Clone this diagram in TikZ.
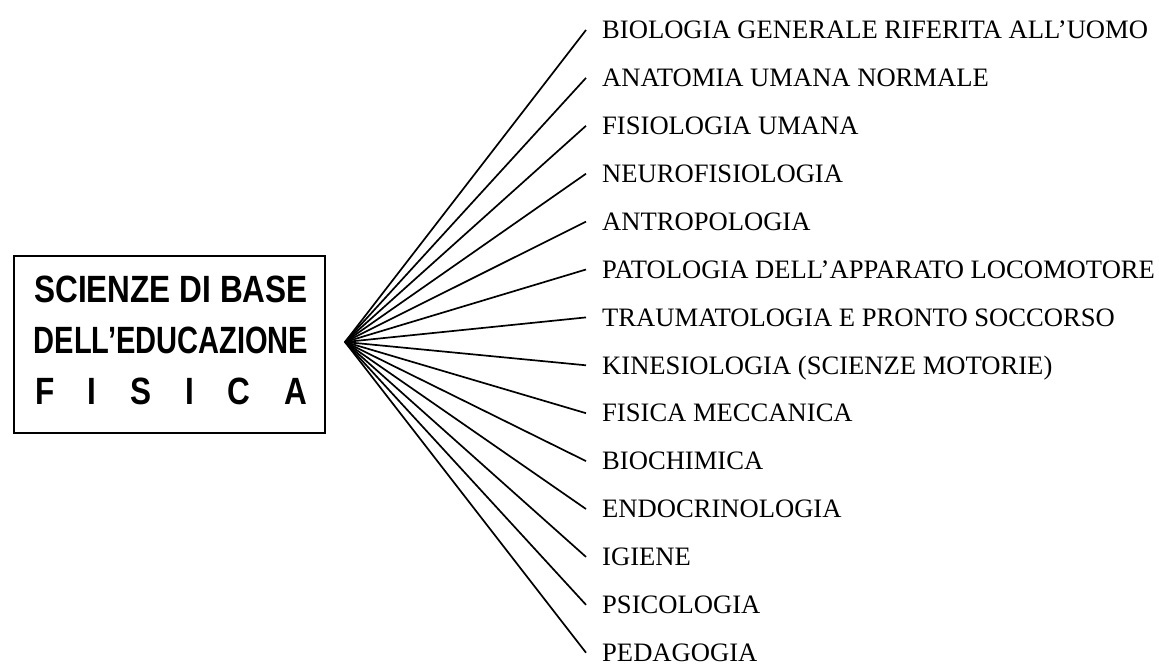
\documentclass[tikz,border=0pt]{standalone}
\usepackage{fontspec}
\setmainfont{Liberation Serif}
\newfontfamily\boxfontA[FakeStretch=0.83]{Liberation Sans}
\newfontfamily\boxfontB[FakeStretch=0.765]{Liberation Sans}
\tikzset{
  x=1pt, y=-1pt,
  framebox/.style={draw, line width=2pt, minimum width=311pt, minimum height=177pt, inner sep=0pt},
  titletext/.style={font=\bfseries\fontsize{38}{51}\selectfont, align=center, inner sep=0pt},
  label/.style={anchor=west, inner sep=0pt, text height=17.5pt, text depth=0pt, font=\fontsize{26.6}{30}\selectfont},
  conn/.style={line width=1.7pt}
}
\begin{document}
\begin{tikzpicture}
\useasboundingbox (0,0) rectangle (1159,666);
\node[framebox] (box) at (169.5,344.5) {};
\node[titletext] (title) at (171,340) {{\boxfontA SCIENZE DI BASE}\\{\boxfontB DELL’EDUCAZIONE}\\{\boxfontA\makebox[272pt][s]{F\hfill I\hfill S\hfill I\hfill C\hfill A}}};
\coordinate (apex) at (345,342);
\foreach \t [count=\i from 0] in {
  BIOLOGIA GENERALE RIFERITA ALL’UOMO,
  ANATOMIA UMANA NORMALE,
  FISIOLOGIA UMANA,
  NEUROFISIOLOGIA,
  ANTROPOLOGIA,
  PATOLOGIA DELL’APPARATO LOCOMOTORE,
  TRAUMATOLOGIA E PRONTO SOCCORSO,
  KINESIOLOGIA (SCIENZE MOTORIE),
  FISICA MECCANICA,
  BIOCHIMICA,
  ENDOCRINOLOGIA,
  IGIENE,
  PSICOLOGIA,
  PEDAGOGIA}{
  \node[label] (l\i) at (602,{30+47.9*\i}) {\t};
  \draw[conn] (apex) -- ([xshift=-16pt]l\i.west);
}
\end{tikzpicture}
\end{document}
